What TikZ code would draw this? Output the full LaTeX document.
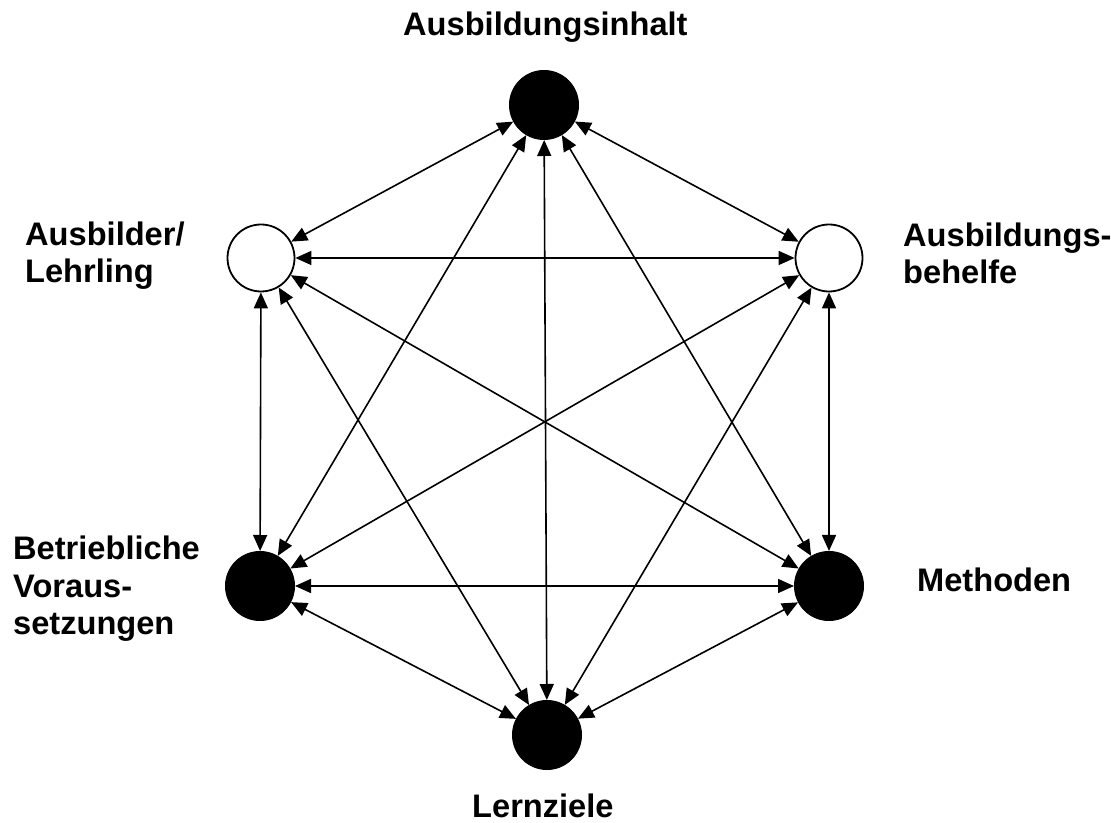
\documentclass[tikz,border=0pt]{standalone}
\usepackage{fontspec}
\setmainfont{Liberation Sans}
\usetikzlibrary{arrows.meta}
\begin{document}
\begin{tikzpicture}[x=1pt,y=1pt,
  blackdot/.style={circle,fill=black,draw=black,line width=1pt,minimum size=69pt,inner sep=0pt},
  whitedot/.style={circle,fill=white,draw=black,line width=1.8pt,minimum size=67pt,inner sep=0pt},
  link/.style={line width=1.6pt,{Triangle[length=16pt,width=14pt]}-{Triangle[length=16pt,width=14pt]}},
  lbl/.style={font=\fontsize{32.6}{37.5}\selectfont\bfseries,inner sep=0pt,align=left,anchor=base west}]
\useasboundingbox (0,0) rectangle (1111,822);
\node[blackdot] (A) at (544,717) {};
\node[whitedot] (L) at (261,564) {};
\node[whitedot] (B) at (829,564) {};
\node[blackdot] (V) at (260,236) {};
\node[blackdot] (M) at (829,236) {};
\node[blackdot] (Z) at (547,87) {};
\foreach \p/\q in {A/L,A/B,A/V,A/M,A/Z,L/B,L/V,L/M,L/Z,B/V,B/M,B/Z,V/M,V/Z,M/Z}
  \draw[link] (\p) -- (\q);
\node[lbl] (tA) at (403,786) {Ausbildungsinhalt};
\node[lbl] (tL) at (25,539) {Ausbilder/\\Lehrling};
\node[lbl] (tB) at (903,538) {Ausbildungs-\\behelfe};
\node[lbl] (tV) at (13,187) {Betriebliche\\Voraus-\\setzungen};
\node[lbl] (tM) at (917,230) {Methoden};
\node[lbl] (tZ) at (472,5) {Lernziele};
\end{tikzpicture}
\end{document}
